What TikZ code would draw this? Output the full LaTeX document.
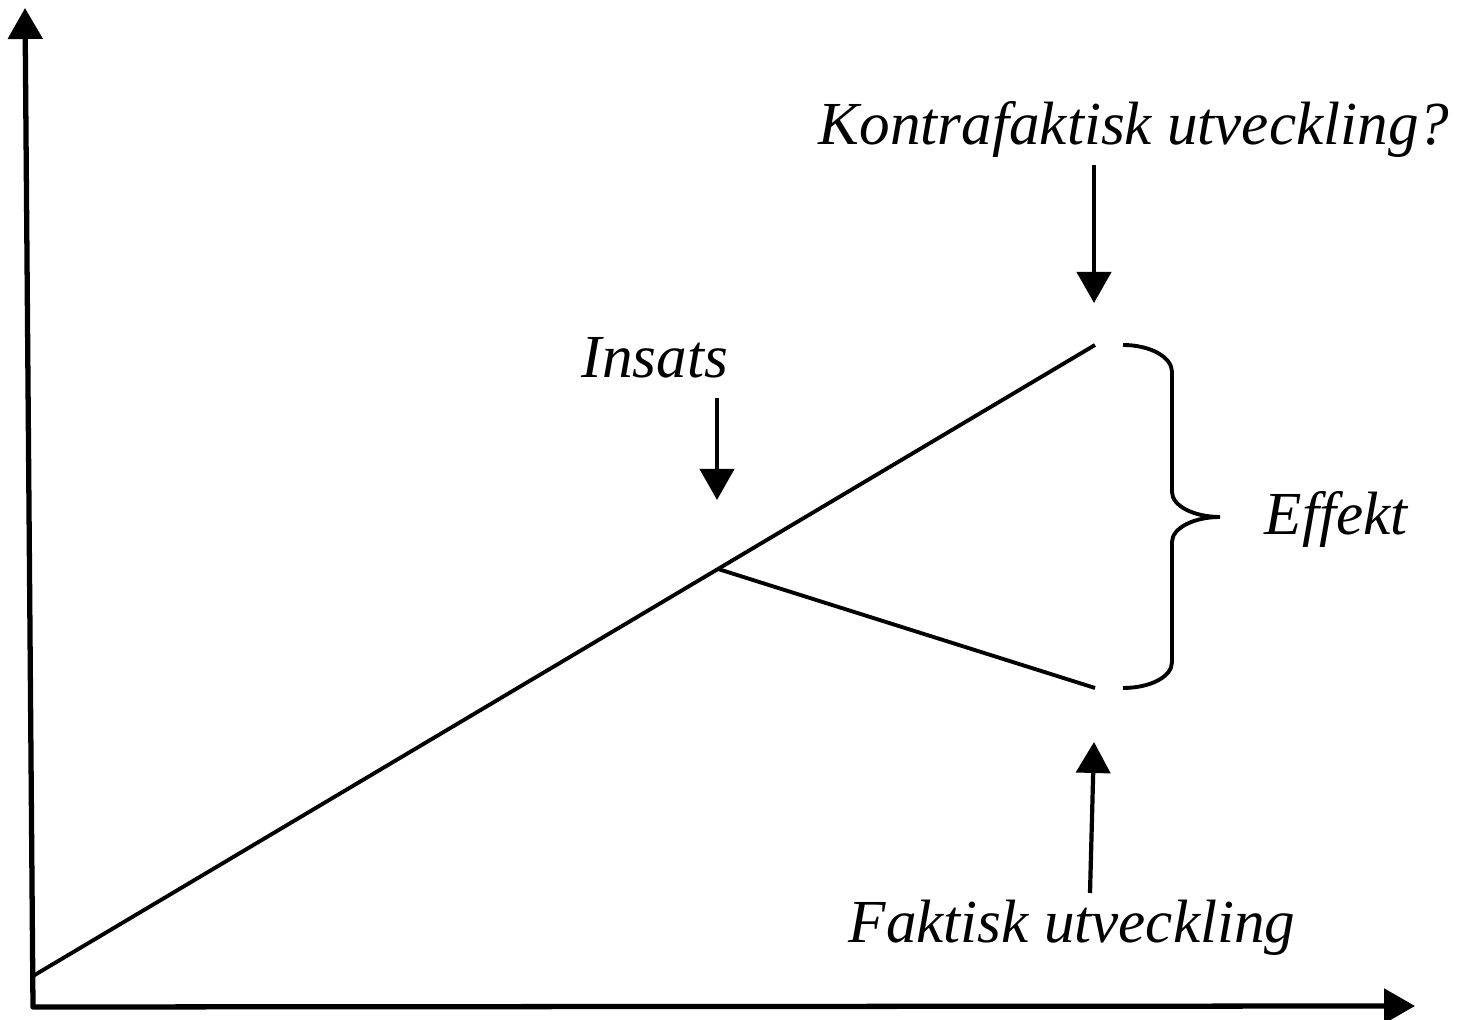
\documentclass[tikz,border=0pt]{standalone}
\usepackage{fontspec}
\setmainfont{Liberation Serif}
\usetikzlibrary{arrows.meta,calc}
\tikzset{pil/.style={-{Triangle[length=3.1mm,width=3.4mm]},line width=1.2pt},
	axel/.style={{Triangle[length=3.1mm,width=3.4mm]}-{Triangle[length=3.1mm,width=3.4mm]},line width=1.5pt,line join=round},
	linje/.style={line width=1.1pt},
	txt/.style={font=\fontsize{17.4}{20}\selectfont\itshape,anchor=base,inner sep=0pt}}
\begin{document}
\begin{tikzpicture}%EFFEKT
			\useasboundingbox (0,0) rectangle (14.58,10.20);
			\coordinate (O) at (0.33,0.13);
			\coordinate (ytopp) at (0.25,10.12);
			\coordinate (xslut) at (14.15,0.14);
			\draw[axel] (ytopp)--(O)--(xslut);
			% utvecklingslinjer
			\coordinate (start) at (0.33,0.44);
			\coordinate (kslut) at (10.95,6.75);
			\coordinate (insats) at ($(start)!0.645!(kslut)$);
			\coordinate (fslut) at (10.95,3.32);
			\draw[linje] (start)--(kslut);
			\draw[linje] (insats)--(fslut);
			% klammer
			\draw[linje] (11.23,6.75) .. controls (11.50,6.75) and (11.72,6.63) .. (11.72,6.48)
				-- (11.72,5.28) .. controls (11.72,5.14) and (11.94,5.03) .. (12.20,5.03)
				.. controls (11.94,5.03) and (11.72,4.92) .. (11.72,4.78)
				-- (11.72,3.58) .. controls (11.72,3.43) and (11.50,3.32) .. (11.23,3.32);
			% texter
			\node[txt] (kontra) at (11.34,8.75) {Kontrafaktisk utveckling?};
			\node[txt] (ins) at (6.55,6.42) {Insats};
			\node[txt] (eff) at (13.36,4.85) {Effekt};
			\node[txt] (fakt) at (10.72,0.77) {Faktisk utveckling};
			% pilar
			\coordinate (k1) at (10.94,8.55);
			\coordinate (k2) at (10.94,7.17);
			\coordinate (i1) at (7.17,6.22);
			\coordinate (i2) at (7.17,5.20);
			\coordinate (f1) at (10.90,1.27);
			\coordinate (f2) at (10.94,2.78);
			\draw[pil] (k1)--(k2);
			\draw[pil] (i1)--(i2);
			\draw[pil] (f1)--(f2);
\end{tikzpicture}
\end{document}
